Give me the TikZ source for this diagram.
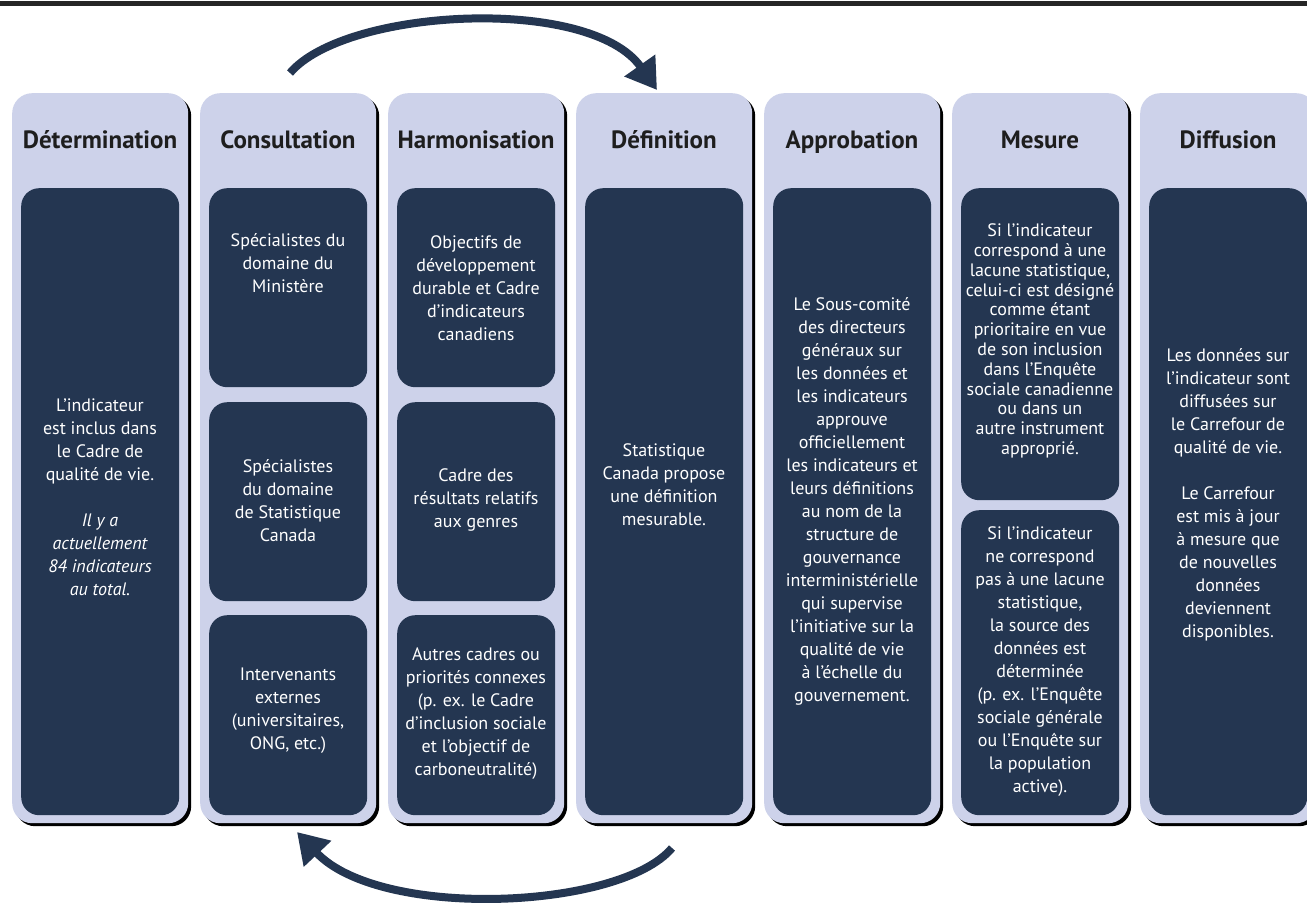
\documentclass[tikz,border=0pt]{standalone}
\usepackage{fontspec}
\setmainfont{PT Sans}
\usetikzlibrary{arrows.meta,shadows}
\definecolor{colbg}{HTML}{CDD2EA}
\definecolor{navy}{HTML}{243651}
\definecolor{headtxt}{HTML}{1E1E1E}
\begin{document}
\begin{tikzpicture}[x=1pt,y=-1pt,
  column/.style={fill=colbg, rounded corners=20pt, minimum width=176pt, minimum height=730pt,
    anchor=north west, inner sep=0pt,
    general shadow={fill=black, shadow xshift=3pt, shadow yshift=-3pt}},
  panel/.style={fill=navy, rounded corners=18pt, minimum width=158pt, anchor=north west, inner sep=0pt},
  head/.style={font=\fontsize{25}{28}\selectfont\bfseries, text=headtxt, inner sep=0pt, anchor=base},
  body/.style={text=white, align=center, font=\fontsize{18}{23}\selectfont, inner sep=0pt},
  cyclearrow/.style={draw=navy, line width=8pt, -{Triangle[length=30pt,width=36pt]}}]
\clip (0,0) rectangle (1307,905);
\fill[white] (0,0) rectangle (1307,905);
\draw[line width=5pt, black!85] (0,3) -- (1307,3);

% columns
\node[column] (c1) at (12,93) {};
\node[column] (c2) at (200,93) {};
\node[column] (c3) at (388,93) {};
\node[column] (c4) at (576,93) {};
\node[column] (c5) at (764,93) {};
\node[column] (c6) at (952,93) {};
\node[column] (c7) at (1140,93) {};

% headers
\node[head] (h1) at (100,148) {Détermination};
\node[head] (h2) at (288,148) {Consultation};
\node[head] (h3) at (476,148) {Harmonisation};
\node[head] (h4) at (664,148) {Définition};
\node[head] (h5) at (852,148) {Approbation};
\node[head] (h6) at (1040,148) {Mesure};
\node[head] (h7) at (1228,148) {Diffusion};

% panels
\node[panel, minimum height=627pt] (p1) at (21,188) {};
\node[panel, minimum height=199pt] (p2a) at (209,188) {};
\node[panel, minimum height=199pt] (p2b) at (209,402) {};
\node[panel, minimum height=200pt] (p2c) at (209,615) {};
\node[panel, minimum height=199pt] (p3a) at (397,188) {};
\node[panel, minimum height=199pt] (p3b) at (397,402) {};
\node[panel, minimum height=200pt] (p3c) at (397,615) {};
\node[panel, minimum height=627pt] (p4) at (585,188) {};
\node[panel, minimum height=627pt] (p5) at (773,188) {};
\node[panel, minimum height=312pt] (p6a) at (961,188) {};
\node[panel, minimum height=305pt] (p6b) at (961,510) {};
\node[panel, minimum height=627pt] (p7) at (1149,188) {};

% texts
\node[body] (t1) at (100,497) {L’indicateur\\est inclus dans\\le Cadre de\\qualité de vie.\\[23pt]
  \itshape Il y a\\\itshape actuellement\\\itshape 84 indicateurs\\\itshape au total.};
\node[body] (t2a) at (288,263) {Spécialistes du\\domaine du\\Ministère};
\node[body] (t2b) at (288,501) {Spécialistes\\du domaine\\de Statistique\\Canada};
\node[body] (t2c) at (288,711) {Intervenants\\externes\\(universitaires,\\ONG, etc.)};
\node[body] (t3a) at (476,288) {Objectifs de\\développement\\durable et Cadre\\d’indicateurs\\canadiens};
\node[body] (t3b) at (476,500) {Cadre des\\résultats relatifs\\aux genres};
\node[body] (t3c) at (476,714) {Autres cadres ou\\priorités connexes\\(p. ex. le Cadre\\d’inclusion sociale\\et l’objectif de\\carboneutralité)};
\node[body] (t4) at (664,485) {Statistique\\Canada propose\\une définition\\mesurable.};
\node[body] (t5) at (852,501) {Le Sous-comité\\des directeurs\\généraux sur\\les données et\\les indicateurs\\approuve\\officiellement\\les indicateurs et\\leurs définitions\\au nom de la\\structure de\\gouvernance\\interministérielle\\qui supervise\\l’initiative sur la\\qualité de vie\\à l’échelle du\\gouvernement.};
\node[body, font=\fontsize{18}{19.8}\selectfont] (t6a) at (1040,341) {Si l’indicateur\\correspond à une\\lacune statistique,\\celui-ci est désigné\\comme étant\\prioritaire en vue\\de son inclusion\\dans l’Enquête\\sociale canadienne\\ou dans un\\autre instrument\\approprié.};
\node[body] (t6b) at (1040,662) {Si l’indicateur\\ne correspond\\pas à une lacune\\statistique,\\la source des\\données est\\déterminée\\(p. ex. l’Enquête\\sociale générale\\ou l’Enquête sur\\la population\\active).};
\node[body] (t7) at (1228,495) {Les données sur\\l’indicateur sont\\diffusées sur\\le Carrefour de\\qualité de vie.\\[23pt]Le Carrefour\\est mis à jour\\à mesure que\\de nouvelles\\données\\deviennent\\disponibles.};

% cycle arrows
\coordinate (a1s) at (290,73);
\coordinate (a1e) at (657,90);
\coordinate (a2s) at (672,848);
\coordinate (a2e) at (297,832);
\draw[cyclearrow] (a1s) .. controls (345,8) and (590,-5) .. (a1e);
\draw[cyclearrow] (a2s) .. controls (620,910) and (380,920) .. (a2e);
\end{tikzpicture}
\end{document}
